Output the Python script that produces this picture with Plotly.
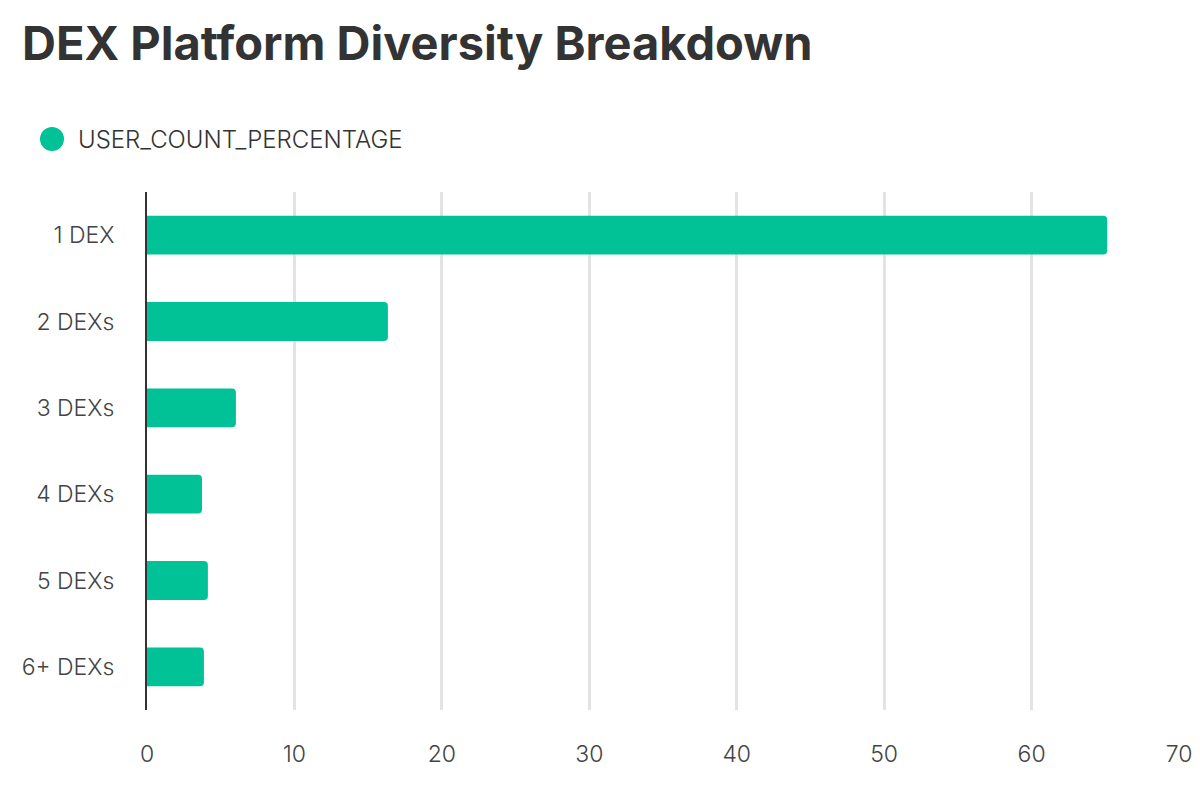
import plotly.graph_objects as go

categories = ["1 DEX", "2 DEXs", "3 DEXs", "4 DEXs", "5 DEXs", "6+ DEXs"]
user_count_percentage = [65.13, 16.34, 6.03, 3.73, 4.13, 3.86]
x_ticks = [0, 10, 20, 30, 40, 50, 60, 70]
series_name = "USER_COUNT_PERCENTAGE"
title_text = "DEX Platform Diversity Breakdown"

color = "#00C296"

ML, MR, MT, MB = 139, 29, 184, 98
W, H = 1200, 800
PW = W - ML - MR
PH = H - MT - MB


def px_x(fx):
    return (fx - ML) / PW


def px_y(fy):
    return (H - MB - fy) / PH


fig = go.Figure()
fig.add_trace(go.Bar(
    y=categories, x=user_count_percentage, orientation="h",
    marker=dict(color=color, line=dict(width=0)),
    name=series_name, showlegend=False,
))

# legend marker + label (drawn to match the reference's large dot)
fig.add_shape(type="circle", xref="paper", yref="paper",
              x0=px_x(32), x1=px_x(56), y0=px_y(143), y1=px_y(119),
              fillcolor=color, line=dict(width=0))
fig.add_annotation(text=series_name, xref="paper", yref="paper",
                   x=px_x(68), y=px_y(131), xanchor="left", yanchor="middle",
                   showarrow=False,
                   font=dict(family="Inter", size=24, color="#333333", weight=300))

fig.update_layout(
    width=W, height=H,
    paper_bgcolor="white", plot_bgcolor="white",
    font=dict(family="Inter", color="#333333", size=20),
    title=dict(text=title_text, x=14 / W, xanchor="left", y=0.956, yanchor="middle",
               font=dict(family="Inter", size=47, color="#333333", weight="bold")),
    margin=dict(l=ML, r=MR, t=MT, b=MB),
    bargap=0.55,
    barcornerradius=4,
    showlegend=False,
    xaxis=dict(range=[0, 70], tickvals=x_ticks, showgrid=True, gridcolor="#e3e3e3",
               gridwidth=3, zeroline=False, showline=False, ticks="",
               ticklabelstandoff=28,
               tickfont=dict(family="Inter", size=23, color="#444444", weight=300)),
    yaxis=dict(categoryorder="array", categoryarray=categories[::-1],
               showline=True, linecolor="#333333", linewidth=2, ticks="",
               ticklabelstandoff=26, showgrid=False,
               tickfont=dict(family="Inter", size=23, color="#444444", weight=300)),
)

fig.write_html("out.html")
